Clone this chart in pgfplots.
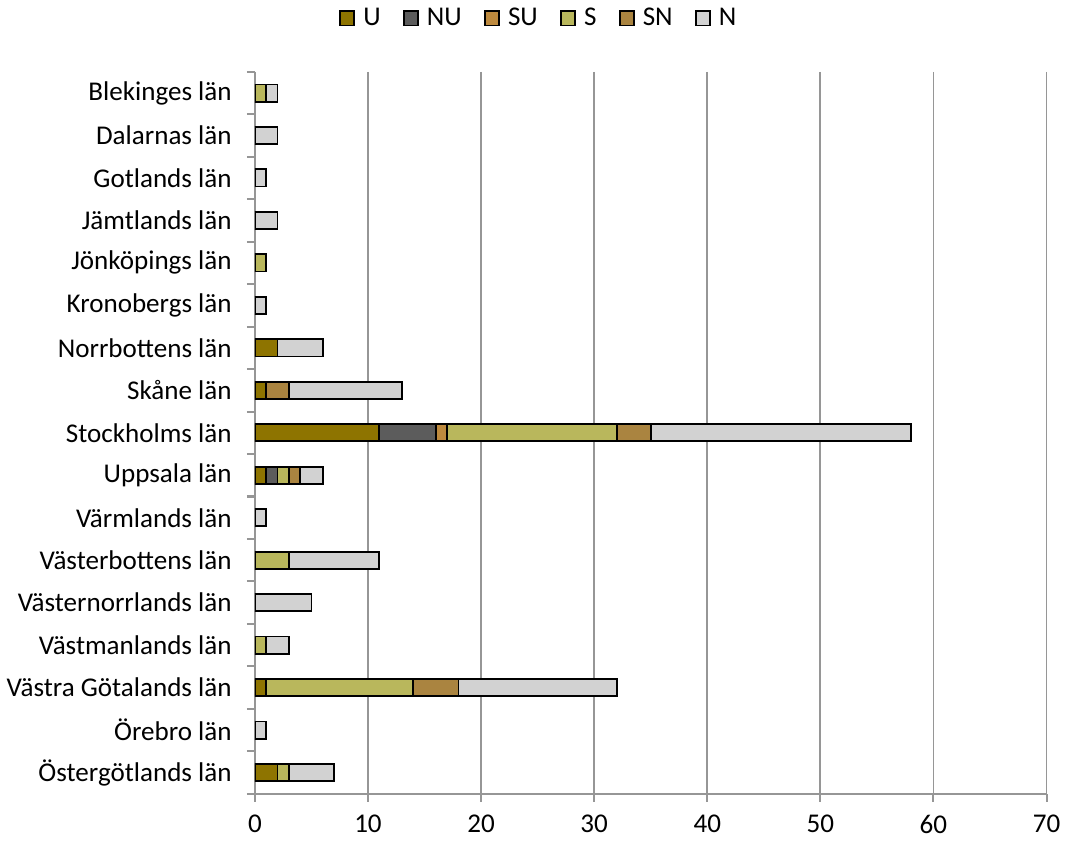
\documentclass[border=0pt]{standalone}
\usepackage{pgfplots}
\pgfplotsset{compat=1.18}
\usepackage{pgfplotstable}
\usepackage{fontspec}
\setmainfont{Carlito}

\definecolor{cU}{RGB}{142,116,0}
\definecolor{cNU}{RGB}{92,92,92}
\definecolor{cSU}{RGB}{190,138,62}
\definecolor{cS}{RGB}{185,183,92}
\definecolor{cSN}{RGB}{170,132,64}
\definecolor{cN}{RGB}{210,210,210}
\definecolor{gridgray}{RGB}{150,150,150}

% Antal per län och kategori
\pgfplotstableread{
y  U  NU SU S  SN N
0  0  0  0  1  0  1
1  0  0  0  0  0  2
2  0  0  0  0  0  1
3  0  0  0  0  0  2
4  0  0  0  1  0  0
5  0  0  0  0  0  1
6  2  0  0  0  0  4
7  1  0  0  0  2  10
8  11 5  1  15 3  23
9  1  1  0  1  1  2
10 0  0  0  0  0  1
11 0  0  0  3  0  8
12 0  0  0  0  0  5
13 0  0  0  1  0  2
14 1  0  0  13 4  14
15 0  0  0  0  0  1
16 2  0  0  1  0  4
}\lan

\begin{document}
\begin{tikzpicture}
\begin{axis}[
  scale only axis,
  width=392pt, height=357.5pt,
  xbar stacked,
  bar width=8.5pt,
  xmin=0, xmax=70,
  ymin=-0.5, ymax=16.5,
  y dir=reverse,
  axis x line*=bottom,
  axis y line*=left,
  axis line style={gridgray, line width=1pt},
  xtick={0,10,...,70},
  xmajorgrids,
  major grid style={gridgray, line width=0.9pt},
  xtick style={gridgray, line width=1pt},
  ytick style={gridgray, line width=1pt},
  major tick length=4pt,
  tick align=outside,
  ytick={-0.5,0.5,...,16.5},
  y tick label as interval,
  yticklabels={Blekinges län, Dalarnas län, Gotlands län, Jämtlands län, Jönköpings län, Kronobergs län, Norrbottens län, Skåne län, Stockholms län, Uppsala län, Värmlands län, Västerbottens län, Västernorrlands län, Västmanlands län, Västra Götalands län, Örebro län, Östergötlands län},
  ticklabel style={font=\fontsize{13.4}{16}\selectfont},
  /pgf/number format/assume math mode=true,
  yticklabel style={xshift=-4pt},
  xticklabel style={yshift=-3pt},
  every axis plot/.append style={draw=black, line width=0.9pt},
  legend columns=6,
  legend style={at={(0.36,1.074)}, anchor=center, draw=none,
    font=\fontsize{13.4}{16}\selectfont,
    /tikz/every odd column/.append style={column sep=2pt},
    /tikz/every even column/.append style={column sep=9pt}},
  legend image code/.code={
    \draw[#1, draw=black, line width=0.9pt] (0pt,-3.5pt) rectangle (7pt,3.5pt);
  },
]
\addplot[fill=cU] table[x=U, y=y] {\lan};
\addplot[fill=cNU] table[x=NU, y=y] {\lan};
\addplot[fill=cSU] table[x=SU, y=y] {\lan};
\addplot[fill=cS] table[x=S, y=y] {\lan};
\addplot[fill=cSN] table[x=SN, y=y] {\lan};
\addplot[fill=cN] table[x=N, y=y] {\lan};
\legend{U, NU, SU, S, SN, N}
\end{axis}
\end{tikzpicture}
\end{document}
